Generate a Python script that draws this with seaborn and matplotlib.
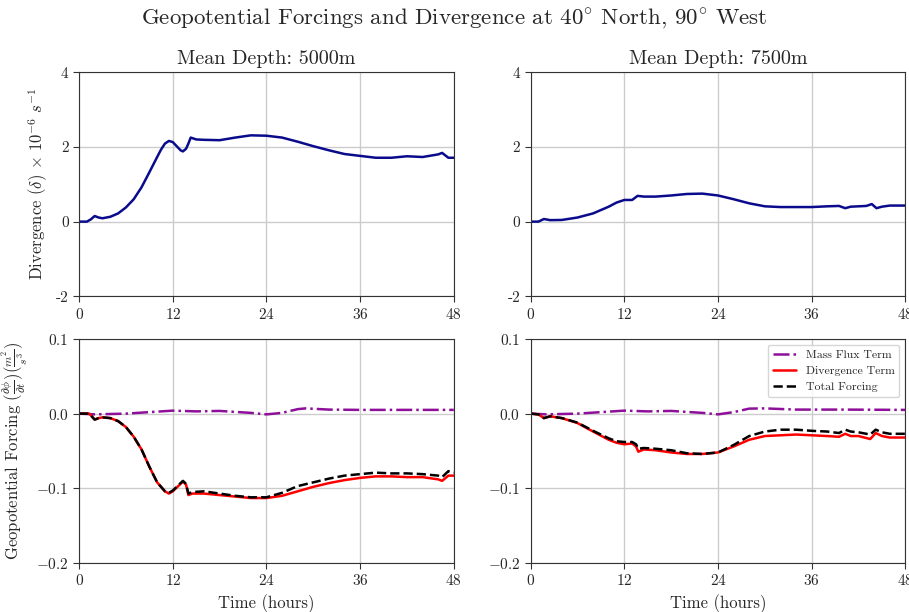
import matplotlib
matplotlib.use("Agg")
import matplotlib.pyplot as plt
import seaborn as sns

# --- data ---
hour_ticks = [0, 12, 24, 36, 48]

# divergence, mean depth 5000 m (x 10^-6 s^-1)
t_div5000 = [0, 1, 1.5, 2, 2.5, 3, 4, 5, 6, 7, 8, 9, 10, 10.5, 11, 11.5, 12, 12.5, 13, 13.3,
             13.7, 14, 14.3, 15, 16, 18, 20, 22, 24, 26, 28, 30, 32, 34, 36, 38, 40, 42, 44,
             46, 46.5, 47.3, 48]
div5000 = [0, 0, 0.06, 0.15, 0.11, 0.09, 0.13, 0.22, 0.38, 0.60, 0.92, 1.32, 1.73, 1.93, 2.09,
           2.16, 2.13, 2.02, 1.91, 1.88, 1.95, 2.09, 2.25, 2.20, 2.19, 2.18, 2.25, 2.31, 2.30,
           2.25, 2.14, 2.02, 1.91, 1.81, 1.76, 1.71, 1.71, 1.75, 1.73, 1.80, 1.84, 1.71, 1.71]

# divergence, mean depth 7500 m
t_div7500 = [0, 1, 1.7, 2.5, 4, 6, 8, 10, 11, 12, 13, 13.7, 14.5, 16, 18, 20, 22, 24, 26, 28,
             30, 32, 34, 36, 38, 39.5, 40.3, 41, 42, 43, 43.7, 44.3, 45, 46, 48]
div7500 = [0, 0, 0.07, 0.04, 0.045, 0.11, 0.22, 0.40, 0.51, 0.58, 0.58, 0.69, 0.67, 0.67, 0.70,
           0.74, 0.75, 0.70, 0.60, 0.49, 0.41, 0.39, 0.39, 0.39, 0.41, 0.42, 0.36, 0.40, 0.41,
           0.42, 0.47, 0.36, 0.40, 0.43, 0.43]

# forcings, 5000 m
t_mass5000 = [0, 2, 6, 9, 12, 15, 18, 22, 24, 26, 28, 29, 32, 36, 42, 48]
mass5000 = [0, -0.001, 0, 0.002, 0.004, 0.003, 0.0036, 0.001, -0.001, 0.001, 0.006, 0.007,
            0.0054, 0.005, 0.005, 0.005]
t_f5000 = [0, 1.3, 2, 2.5, 3, 4, 5, 6, 7, 8, 9, 10, 11, 11.5, 12, 13, 13.3, 13.7, 14, 14.5,
           16, 18, 20, 22, 24, 26, 28, 30, 32, 34, 36, 38, 40, 42, 44, 46, 46.5, 47.3, 48]
divterm5000 = [0, 0, -0.008, -0.006, -0.005, -0.006, -0.010, -0.018, -0.031, -0.048, -0.071,
               -0.092, -0.104, -0.107, -0.104, -0.094, -0.091, -0.095, -0.109, -0.107, -0.107,
               -0.109, -0.111, -0.113, -0.113, -0.110, -0.104, -0.098, -0.093, -0.089, -0.086,
               -0.084, -0.084, -0.085, -0.085, -0.088, -0.090, -0.083, -0.083]
total5000 = [0, 0, -0.008, -0.006, -0.005, -0.006, -0.010, -0.018, -0.031, -0.048, -0.071,
             -0.092, -0.104, -0.106, -0.103, -0.093, -0.090, -0.094, -0.107, -0.105, -0.104,
             -0.107, -0.110, -0.112, -0.112, -0.106, -0.097, -0.092, -0.087, -0.083, -0.081,
             -0.079, -0.080, -0.080, -0.081, -0.083, -0.085, -0.077, -0.079]

# forcings, 7500 m
t_mass7500 = [0, 2, 6, 9, 12, 15, 18, 22, 24, 26, 28, 30, 34, 40, 48]
mass7500 = [0, -0.001, 0, 0.002, 0.004, 0.003, 0.0036, 0.001, -0.001, 0.002, 0.0067, 0.007,
            0.0054, 0.0054, 0.005]
t_f7500 = [0, 1, 1.7, 2.5, 4, 6, 8, 10, 11, 12, 13, 13.5, 13.8, 14.5, 16, 18, 20, 22, 24, 26,
           28, 30, 32, 34, 36, 38, 39.5, 40.3, 41, 42, 43.5, 44.2, 45, 46, 48]
divterm7500 = [0, -0.001, -0.006, -0.0036, -0.006, -0.0126, -0.024, -0.035, -0.039, -0.041,
               -0.040, -0.044, -0.051, -0.048, -0.049, -0.052, -0.054, -0.054, -0.052, -0.044,
               -0.035, -0.030, -0.029, -0.028, -0.029, -0.030, -0.031, -0.027, -0.030, -0.030,
               -0.034, -0.026, -0.030, -0.032, -0.032]
total7500 = [0, -0.001, -0.006, -0.0036, -0.006, -0.012, -0.023, -0.033, -0.037, -0.038,
             -0.038, -0.041, -0.047, -0.046, -0.047, -0.049, -0.053, -0.054, -0.052, -0.042,
             -0.030, -0.024, -0.0215, -0.0215, -0.023, -0.024, -0.026, -0.0215, -0.024, -0.025,
             -0.028, -0.0215, -0.025, -0.027, -0.027]

# --- style ---
sns.set_style("ticks", {"axes.grid": True})
plt.rcParams["font.family"] = ["cmr10", "DejaVu Serif"]
plt.rcParams["mathtext.fontset"] = "cm"
plt.rcParams["axes.formatter.use_mathtext"] = True
plt.rcParams["axes.unicode_minus"] = True

fig, axes = plt.subplots(2, 2, figsize=(9.09, 6.12), dpi=100)
fig.subplots_adjust(left=0.087, right=0.996, top=0.882, bottom=0.08, wspace=0.205, hspace=0.19)

panels = [
    (0, t_div5000, div5000, t_mass5000, mass5000, t_f5000, divterm5000, total5000, "5000m"),
    (1, t_div7500, div7500, t_mass7500, mass7500, t_f7500, divterm7500, total7500, "7500m"),
]

for col, td, dv, tm, mf, tf, dt, tot, depth in panels:
    ax = axes[0, col]
    sns.lineplot(x=td, y=dv, ax=ax, color="#0a0a8c", lw=1.8)
    ax.set_xlim(0, 48)
    ax.set_ylim(-2, 4)
    ax.set_yticks([-2, 0, 2, 4])
    ax.set_yticklabels(["-2", "0", "2", "4"])
    ax.set_title(f"Mean Depth: {depth}", fontsize=14.5)

    ax = axes[1, col]
    sns.lineplot(x=tm, y=mf, ax=ax, color="#8e0f99", lw=1.8, linestyle="-.", label="Mass Flux Term")
    sns.lineplot(x=tf, y=dt, ax=ax, color="red", lw=1.8, label="Divergence Term")
    sns.lineplot(x=tf, y=tot, ax=ax, color="black", lw=1.8, linestyle="--", label="Total Forcing")
    ax.set_xlim(0, 48)
    ax.set_ylim(-0.2, 0.1)
    ax.set_yticks([-0.2, -0.1, 0.0, 0.1])
    ax.set_xlabel("Time (hours)", fontsize=12)
    if col == 1:
        ax.legend(loc="upper right", fontsize=8.5)
    else:
        ax.get_legend().remove()

for ax in axes.flat:
    ax.set_xticks(hour_ticks)
    ax.tick_params(labelsize=11, direction="out", length=4, color="#333333")
    ax.grid(True, color="#cccccc", lw=1)
    for s in ax.spines.values():
        s.set_color("#333333")

axes[0, 0].set_ylabel(r"Divergence ($\delta$) $\times\ 10^{-6}\ s^{-1}$", fontsize=12)
axes[1, 0].set_ylabel(r"Geopotential Forcing $(\frac{\partial\phi}{\partial t})(\frac{m^2}{s^3})$",
                      fontsize=12)

fig.suptitle(r"Geopotential Forcings and Divergence at 40$^{\circ}$ North, 90$^{\circ}$ West",
             fontsize=16.5, y=0.99)

fig.savefig("out.png", dpi=100)
